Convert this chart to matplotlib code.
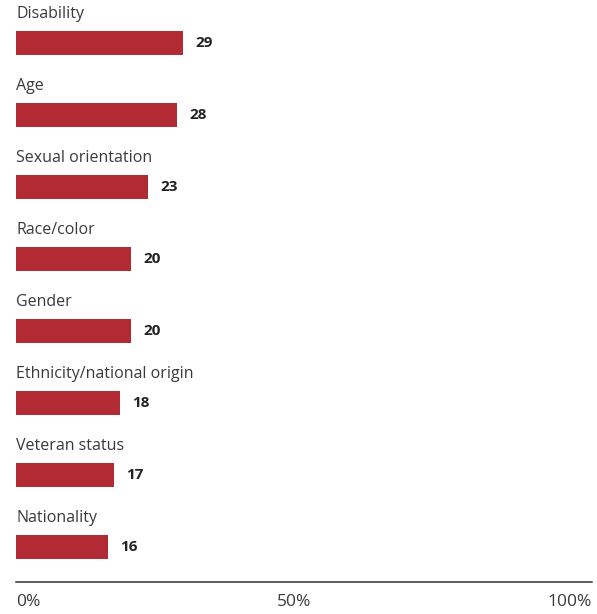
import numpy as np
import matplotlib
matplotlib.use("Agg")
from matplotlib import pyplot as plt
from matplotlib.transforms import ScaledTranslation

plt.rcParams['font.family'] = ['Open Sans', 'DejaVu Sans']

# share of respondents by type of discrimination (%)
categories = ["Disability", "Age", "Sexual orientation", "Race/color", "Gender",
              "Ethnicity/national origin", "Veteran status", "Nationality"]
values = [29, 28, 23, 20, 20, 18, 17, 16]
tick_vals = [0, 50, 100]
tick_labels = ["0%", "50%", "100%"]

bar_color = '#b22a33'
text_color = '#3a3a3a'

fig = plt.figure(figsize=(5.97, 6.14), dpi=100)
ax = fig.add_axes([16/597, 32/614, 576/597, 582/614])

y = np.arange(len(categories))
ax.barh(y, values, height=24/72, color=bar_color, align='center')

for i, (cat, v) in enumerate(zip(categories, values)):
    # category name sits above its bar
    ax.text(0, i - 25/72, cat, ha='left', va='baseline', fontsize=11.5,
            color=text_color, clip_on=False)
    # value label just right of the bar end
    ax.text(v, i, str(v), ha='left', va='center', fontsize=11,
            color='#222222', fontweight='bold',
            transform=ax.transData + ScaledTranslation(12/100, 0, fig.dpi_scale_trans))

ax.set_xlim(0, 100)
ax.set_ylim(len(categories) - 1 + 35/72, -43/72)

ax.set_xticks(tick_vals)
ax.set_xticklabels(tick_labels, fontsize=12.5, color=text_color)
ax.tick_params(axis='x', length=0, pad=9)
labs = ax.get_xticklabels()
labs[0].set_ha('left')
labs[1].set_transform(labs[1].get_transform() + ScaledTranslation(-10/100, 0, fig.dpi_scale_trans))
labs[2].set_ha('right')
ax.set_yticks([])

for s in ['top', 'right', 'left']:
    ax.spines[s].set_visible(False)
ax.spines['bottom'].set_color('#333333')
ax.spines['bottom'].set_linewidth(1.1)

fig.savefig('out.png', dpi=100)
